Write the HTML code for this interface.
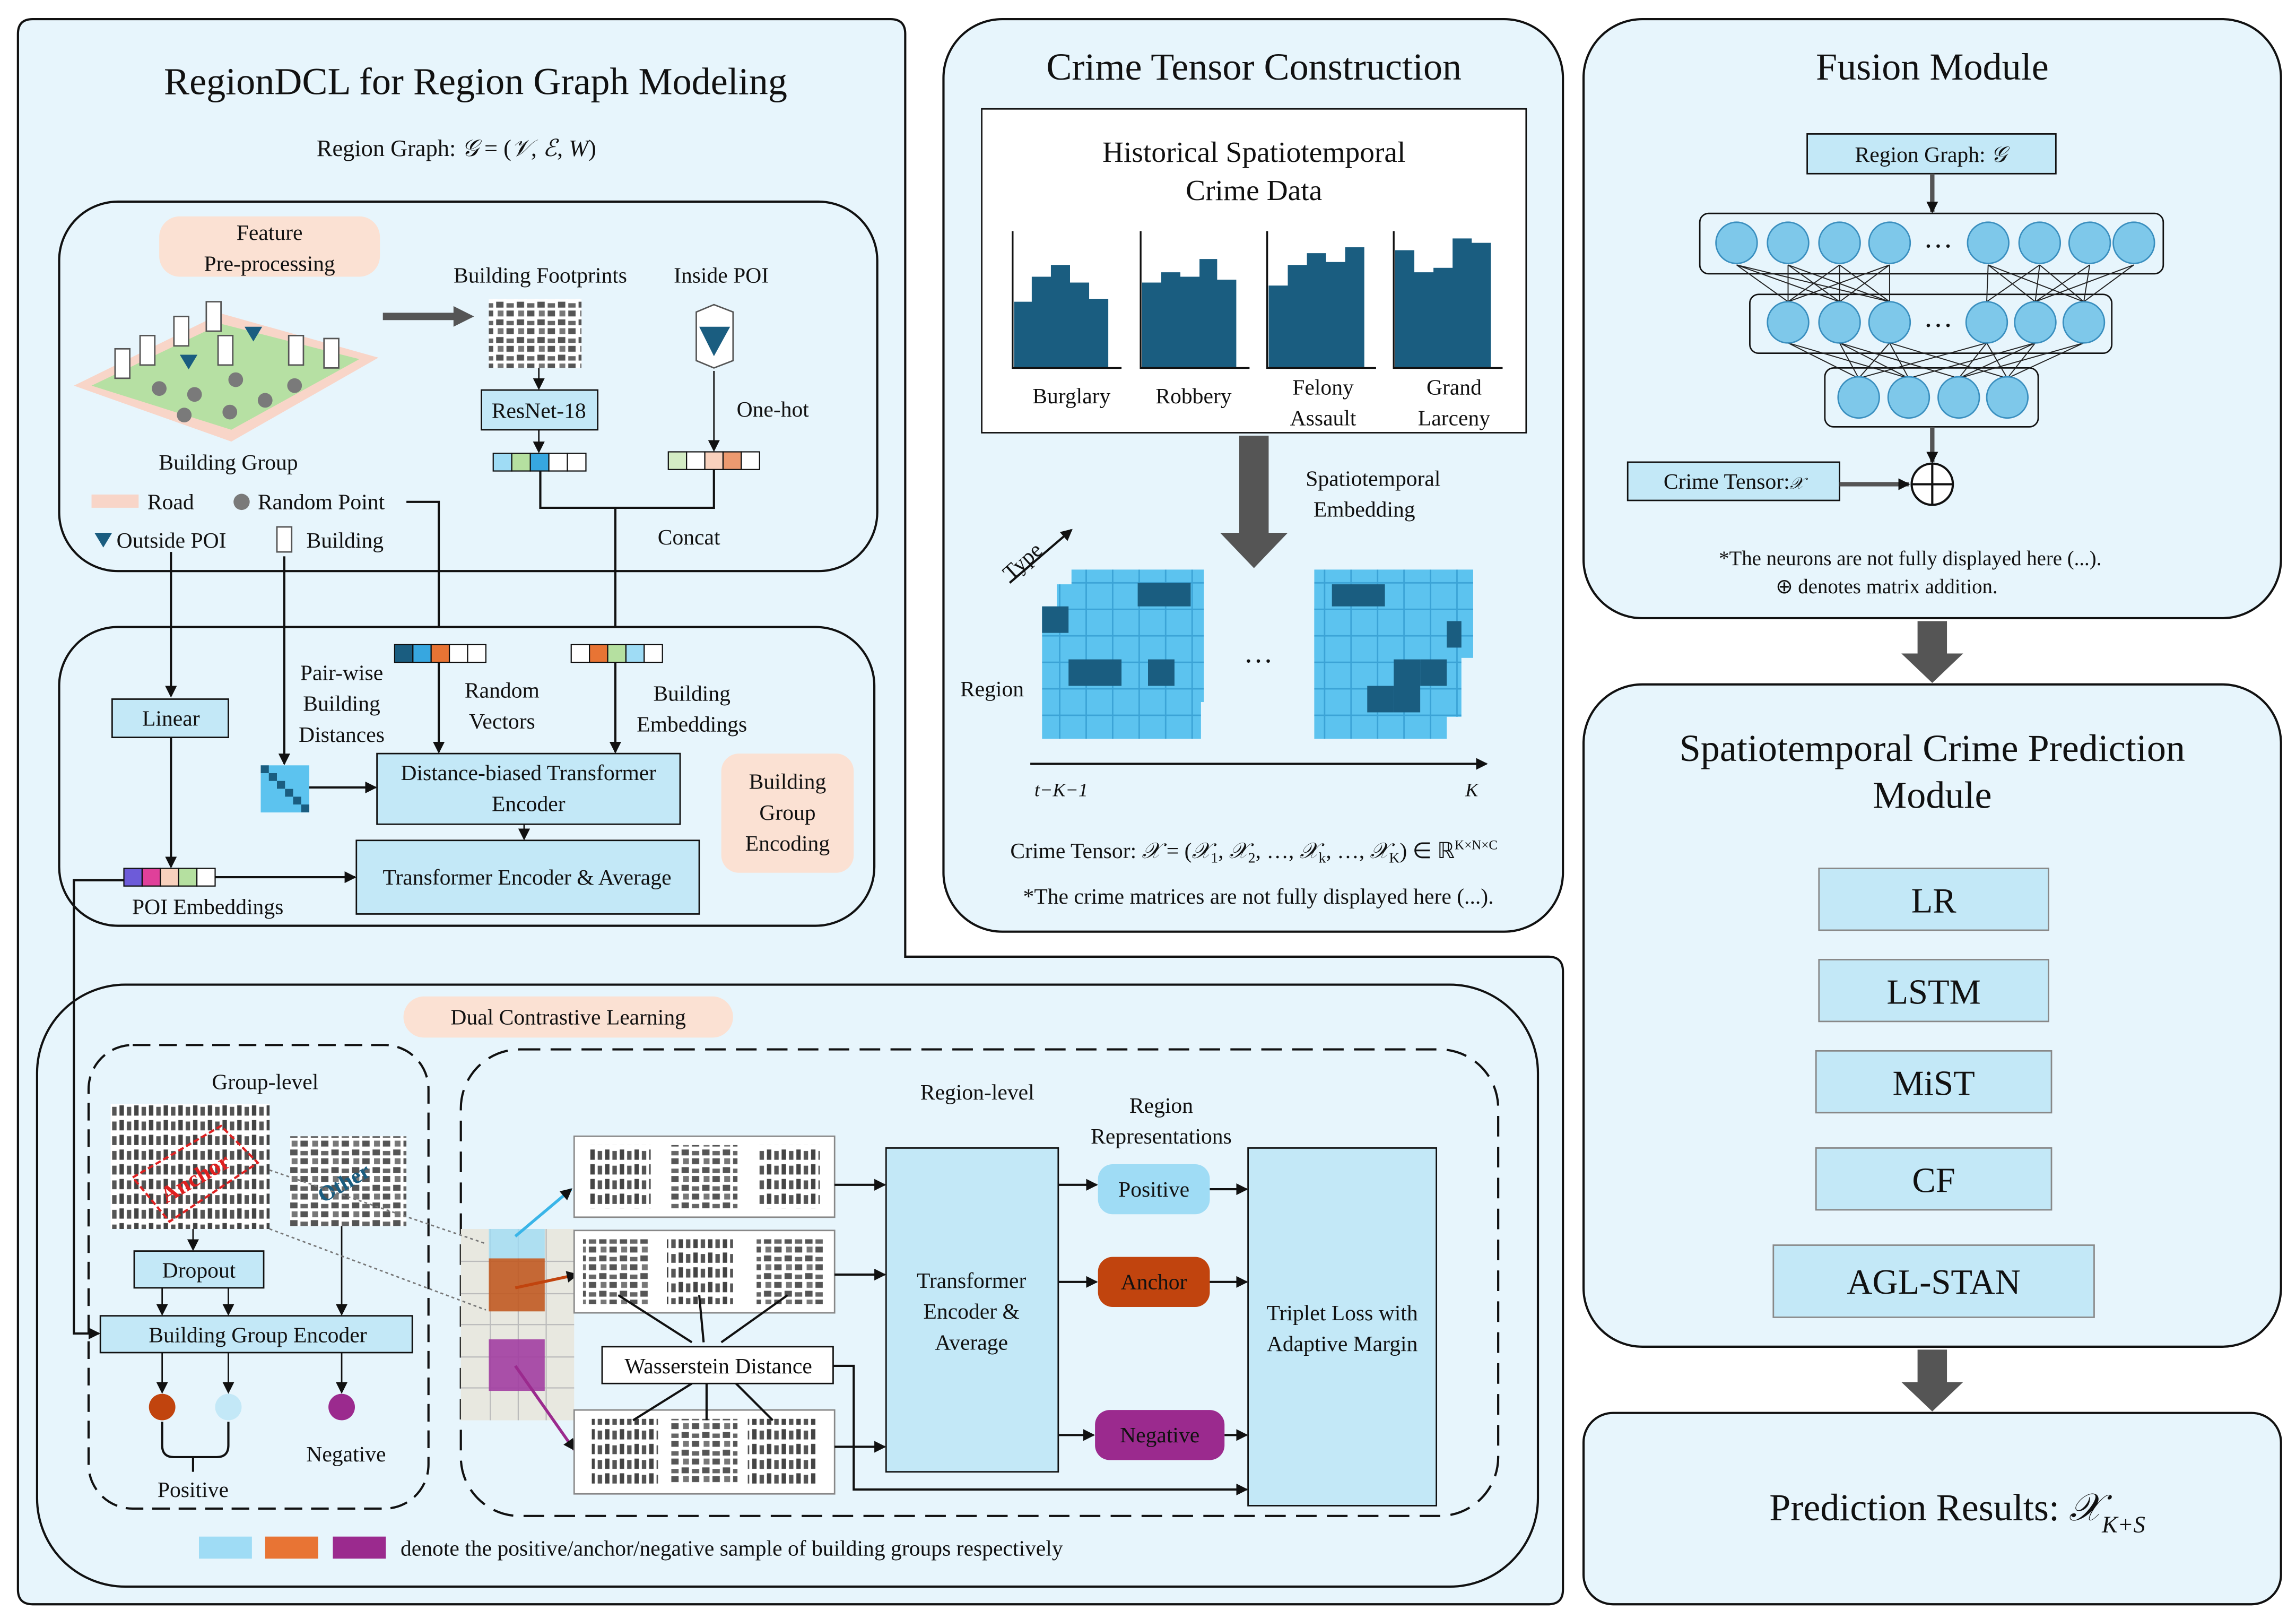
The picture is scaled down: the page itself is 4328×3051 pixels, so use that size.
<!DOCTYPE html>
<html><head><meta charset="utf-8"><style>
html,body{margin:0;padding:0;background:#fff;}
svg{display:block;}
text{font-family:"Liberation Serif",serif;fill:#111;}
</style></head><body>
<svg width="4328" height="3051" viewBox="0 0 1560 1100" xmlns="http://www.w3.org/2000/svg">
<defs>
<marker id="ar" markerWidth="8" markerHeight="8" refX="7" refY="4" orient="auto" markerUnits="userSpaceOnUse"><path d="M0,0L8,4L0,8z" fill="#111"/></marker>
<pattern id="grid" width="18" height="18" patternUnits="userSpaceOnUse"><rect width="18" height="18" fill="#5cc3ef" stroke="#3ba3d6" stroke-width="1"/></pattern>
<pattern id="bld" width="14" height="12" patternUnits="userSpaceOnUse"><rect width="14" height="12" fill="#fff"/><rect x="1" y="1" width="5" height="4" fill="#555"/><rect x="8" y="2" width="5" height="3" fill="#666"/><rect x="2" y="7" width="4" height="4" fill="#777"/><rect x="8" y="7" width="5" height="4" fill="#555"/></pattern>
<pattern id="bld2" width="10" height="10" patternUnits="userSpaceOnUse"><rect width="10" height="10" fill="#fff"/><rect x="1" y="1" width="3" height="7" fill="#444"/><rect x="6" y="2" width="3" height="6" fill="#555"/></pattern>
</defs>

<!-- left big panel -->
<path d="M22,13 H605 Q615,13 615,23 V650 H1052 Q1062,650 1062,660 V1080 Q1062,1090 1052,1090 H22 Q12,1090 12,1080 V23 Q12,13 22,13 Z" fill="#e7f5fc" stroke="#111" stroke-width="1.5"/>
<!-- crime tensor panel -->
<rect x="641" y="13" width="421" height="620" rx="40" fill="#e7f5fc" stroke="#111" stroke-width="1.5"/>
<!-- fusion -->
<rect x="1076" y="13" width="474" height="407" rx="40" fill="#e7f5fc" stroke="#111" stroke-width="1.5"/>
<rect x="1076" y="465" width="474" height="450" rx="40" fill="#e7f5fc" stroke="#111" stroke-width="1.5"/>
<rect x="1076" y="960" width="474" height="130" rx="20" fill="#e7f5fc" stroke="#111" stroke-width="1.5"/>

<!-- LEFT TOP -->
<text x="323" y="64" font-size="26" text-anchor="middle">RegionDCL for Region Graph Modeling</text>
<text x="310" y="106" font-size="16" text-anchor="middle">Region Graph: <tspan font-style="italic">𝒢</tspan> = (<tspan font-style="italic">𝒱</tspan>, <tspan font-style="italic">ℰ</tspan>, <tspan font-style="italic">W</tspan>)</text>

<rect x="40" y="137" width="556" height="251" rx="40" fill="#e7f5fc" stroke="#111" stroke-width="1.5"/>
<rect x="108" y="147" width="150" height="41" rx="14" fill="#fbe1d3"/>
<text x="183" y="163" font-size="15" text-anchor="middle">Feature</text>
<text x="183" y="184" font-size="15" text-anchor="middle">Pre-processing</text>
<polygon points="50,262 150,213 257,243 157,300" fill="#f8d5c8"/>
<polygon points="62,262 150,220 244,244 157,292" fill="#b6e0a3"/>
<g fill="#7a7a7a"><circle cx="108" cy="264" r="5"/><circle cx="132" cy="268" r="5"/><circle cx="156" cy="280" r="5"/><circle cx="180" cy="272" r="5"/><circle cx="160" cy="258" r="5"/><circle cx="125" cy="282" r="5"/><circle cx="200" cy="262" r="5"/></g>
<g fill="#fff" stroke="#555"><rect x="78" y="237" width="10" height="20"/><rect x="95" y="228" width="10" height="20"/><rect x="118" y="215" width="10" height="20"/><rect x="140" y="205" width="10" height="20"/><rect x="148" y="228" width="10" height="20"/><rect x="196" y="228" width="10" height="20"/><rect x="220" y="230" width="10" height="20"/></g>
<g fill="#1a5d80"><polygon points="122,241 134,241 128,251"/><polygon points="166,222 178,222 172,232"/></g>
<text x="155" y="319" font-size="15" text-anchor="middle">Building Group</text>
<line x1="260" y1="215" x2="310" y2="215" stroke="#555" stroke-width="5"/><polygon points="308,208 322,215 308,222" fill="#555"/>
<text x="367" y="192" font-size="15" text-anchor="middle">Building Footprints</text>
<rect x="332" y="203" width="63" height="47" fill="url(#bld)"/>
<line x1="366" y1="250" x2="366" y2="264" stroke="#111" marker-end="url(#ar)"/>
<rect x="327" y="265" width="79" height="27" fill="#c3e8f7" stroke="#111"/>
<text x="366" y="284" font-size="15" text-anchor="middle">ResNet-18</text>
<line x1="366" y1="292" x2="366" y2="307" stroke="#111" marker-end="url(#ar)"/>
<g stroke="#111" stroke-width="0.8"><rect x="335" y="308" width="12.6" height="12" fill="#9fdcf5"/><rect x="347.6" y="308" width="12.6" height="12" fill="#b5e0a0"/><rect x="360.2" y="308" width="12.6" height="12" fill="#37a7e0"/><rect x="372.8" y="308" width="12.6" height="12" fill="#fff"/><rect x="385.4" y="308" width="12.6" height="12" fill="#fff"/></g>
<text x="490" y="192" font-size="15" text-anchor="middle">Inside POI</text>
<polygon points="473,212 485,207 498,212 498,245 485,250 473,245" fill="#fff" stroke="#555"/>
<polygon points="475,222 496,222 485,242" fill="#1a5d80"/>
<text x="525" y="283" font-size="15" text-anchor="middle">One-hot</text>
<line x1="485" y1="252" x2="485" y2="306" stroke="#111" marker-end="url(#ar)"/>
<g stroke="#111" stroke-width="0.8"><rect x="454" y="307" width="12.4" height="12" fill="#d4ecc4"/><rect x="466.4" y="307" width="12.4" height="12" fill="#fff"/><rect x="478.8" y="307" width="12.4" height="12" fill="#f8d1bd"/><rect x="491.2" y="307" width="12.4" height="12" fill="#ec9a70"/><rect x="503.6" y="307" width="12.4" height="12" fill="#fff"/></g>
<path d="M367,320 V345 H485 V319" fill="none" stroke="#111" stroke-width="1.5"/>
<line x1="418" y1="345" x2="418" y2="436" stroke="#111" stroke-width="1.5" marker-end="url(#ar)"/>
<text x="468" y="370" font-size="15" text-anchor="middle">Concat</text>
<rect x="62" y="336" width="32" height="9" fill="#f8d5c8"/>
<text x="100" y="346" font-size="15">Road</text>
<circle cx="164" cy="341" r="5.5" fill="#7a7a7a"/>
<text x="175" y="346" font-size="15">Random Point</text>
<path d="M276,341 H298 V436" fill="none" stroke="#111" stroke-width="1.5" marker-end="url(#ar)"/>
<polygon points="64,362 76,362 70,372" fill="#1a5d80"/>
<text x="79" y="372" font-size="15">Outside POI</text>
<rect x="188" y="358" width="10" height="17" fill="#fff" stroke="#555"/>
<text x="208" y="372" font-size="15">Building</text>

<!-- box 2 -->
<rect x="40" y="426" width="554" height="203" rx="40" fill="#e7f5fc" stroke="#111" stroke-width="1.5"/>
<line x1="116" y1="375" x2="116" y2="473" stroke="#111" stroke-width="1.5" marker-end="url(#ar)"/>
<line x1="193" y1="378" x2="193" y2="519" stroke="#111" stroke-width="1.5" marker-end="url(#ar)"/>
<g stroke="#111" stroke-width="0.8"><rect x="268" y="438" width="12.4" height="12" fill="#1a5d80"/><rect x="280.4" y="438" width="12.4" height="12" fill="#37a7e0"/><rect x="292.8" y="438" width="12.4" height="12" fill="#e87434"/><rect x="305.2" y="438" width="12.4" height="12" fill="#fff"/><rect x="317.6" y="438" width="12.4" height="12" fill="#fff"/></g>
<g stroke="#111" stroke-width="0.8"><rect x="388" y="438" width="12.4" height="12" fill="#fff"/><rect x="400.4" y="438" width="12.4" height="12" fill="#e87434"/><rect x="412.8" y="438" width="12.4" height="12" fill="#b5e0a0"/><rect x="425.2" y="438" width="12.4" height="12" fill="#9fdcf5"/><rect x="437.6" y="438" width="12.4" height="12" fill="#fff"/></g>
<text x="232" y="462" font-size="15" text-anchor="middle">Pair-wise</text>
<text x="232" y="483" font-size="15" text-anchor="middle">Building</text>
<text x="232" y="504" font-size="15" text-anchor="middle">Distances</text>
<text x="341" y="474" font-size="15" text-anchor="middle">Random</text>
<text x="341" y="495" font-size="15" text-anchor="middle">Vectors</text>
<text x="470" y="476" font-size="15" text-anchor="middle">Building</text>
<text x="470" y="497" font-size="15" text-anchor="middle">Embeddings</text>
<rect x="76" y="475" width="79" height="26" fill="#c3e8f7" stroke="#111"/>
<text x="116" y="493" font-size="15" text-anchor="middle">Linear</text>
<line x1="116" y1="501" x2="116" y2="589" stroke="#111" stroke-width="1.5" marker-end="url(#ar)"/>
<rect x="177" y="520" width="33" height="32" fill="#5cc3ef"/>
<g fill="#1a5d80"><rect x="177" y="520" width="5.5" height="5.3"/><rect x="182.5" y="525.3" width="5.5" height="5.3"/><rect x="188" y="530.6" width="5.5" height="5.3"/><rect x="193.5" y="536" width="5.5" height="5.3"/><rect x="199" y="541.3" width="5.5" height="5.3"/><rect x="204.5" y="546.6" width="5.5" height="5.3"/></g>
<line x1="210" y1="535" x2="255" y2="535" stroke="#111" stroke-width="1.5" marker-end="url(#ar)"/>
<line x1="298" y1="450" x2="298" y2="511" stroke="#111" stroke-width="1.5" marker-end="url(#ar)"/>
<line x1="418" y1="450" x2="418" y2="511" stroke="#111" stroke-width="1.5" marker-end="url(#ar)"/>
<rect x="256" y="512" width="206" height="48" fill="#c3e8f7" stroke="#111"/>
<text x="359" y="530" font-size="15" text-anchor="middle">Distance-biased Transformer</text>
<text x="359" y="551" font-size="15" text-anchor="middle">Encoder</text>
<line x1="356" y1="560" x2="356" y2="570" stroke="#111" marker-end="url(#ar)"/>
<rect x="242" y="571" width="233" height="50" fill="#c3e8f7" stroke="#111"/>
<text x="358" y="601" font-size="15" text-anchor="middle">Transformer Encoder &amp; Average</text>
<rect x="490" y="512" width="90" height="81" rx="12" fill="#fbe1d3"/>
<text x="535" y="536" font-size="15" text-anchor="middle">Building</text>
<text x="535" y="557" font-size="15" text-anchor="middle">Group</text>
<text x="535" y="578" font-size="15" text-anchor="middle">Encoding</text>
<g stroke="#111" stroke-width="0.8"><rect x="84" y="590" width="12.4" height="12" fill="#6d5bd9"/><rect x="96.4" y="590" width="12.4" height="12" fill="#e0409a"/><rect x="108.8" y="590" width="12.4" height="12" fill="#f8d1bd"/><rect x="121.2" y="590" width="12.4" height="12" fill="#b5e0a0"/><rect x="133.6" y="590" width="12.4" height="12" fill="#fff"/></g>
<line x1="146" y1="596" x2="241" y2="596" stroke="#111" stroke-width="1.5" marker-end="url(#ar)"/>
<text x="141" y="621" font-size="15" text-anchor="middle">POI Embeddings</text>
<path d="M84,598 H50 V906 H67" fill="none" stroke="#111" stroke-width="1.5" marker-end="url(#ar)"/>

<!-- DUAL CONTRASTIVE -->
<rect x="25" y="669" width="1020" height="409" rx="60" fill="#e7f5fc" stroke="#111" stroke-width="1.5"/>
<path d="M84,598 H50 V906 H67" fill="none" stroke="#111" stroke-width="1.5" marker-end="url(#ar)"/>
<rect x="274" y="677" width="224" height="28" rx="14" fill="#fbe1d3"/>
<text x="386" y="696" font-size="15" text-anchor="middle">Dual Contrastive Learning</text>
<rect x="60" y="710" width="231" height="315" rx="30" fill="none" stroke="#111" stroke-width="1.5" stroke-dasharray="12,6"/>
<text x="180" y="740" font-size="15" text-anchor="middle">Group-level</text>
<rect x="75" y="750" width="108" height="85" fill="url(#bld2)"/>
<polygon points="90,800 150,765 175,790 115,830" fill="none" stroke="#e02020" stroke-width="1.5" stroke-dasharray="4,2"/>
<text x="135" y="805" font-size="16" font-weight="bold" fill="#e02020" transform="rotate(-30 135 805)" text-anchor="middle" style="fill:#e02020">Anchor</text>
<rect x="197" y="772" width="79" height="61" fill="url(#bld)"/>
<text x="236" y="808" font-size="15" font-weight="bold" transform="rotate(-30 236 808)" text-anchor="middle" style="fill:#1a5d80">Other</text>
<line x1="131" y1="835" x2="131" y2="849" stroke="#111" marker-end="url(#ar)"/>
<rect x="91" y="850" width="88" height="25" fill="#c3e8f7" stroke="#111"/>
<text x="135" y="868" font-size="15" text-anchor="middle">Dropout</text>
<line x1="110" y1="875" x2="110" y2="893" stroke="#111" marker-end="url(#ar)"/>
<line x1="155" y1="875" x2="155" y2="893" stroke="#111" marker-end="url(#ar)"/>
<line x1="232" y1="833" x2="232" y2="893" stroke="#111" marker-end="url(#ar)"/>
<rect x="68" y="894" width="212" height="25" fill="#c3e8f7" stroke="#111"/>
<text x="175" y="912" font-size="15" text-anchor="middle">Building Group Encoder</text>
<line x1="110" y1="919" x2="110" y2="946" stroke="#111" marker-end="url(#ar)"/>
<line x1="155" y1="919" x2="155" y2="946" stroke="#111" marker-end="url(#ar)"/>
<line x1="232" y1="919" x2="232" y2="946" stroke="#111" marker-end="url(#ar)"/>
<circle cx="110" cy="956" r="9" fill="#c1440e"/>
<circle cx="155" cy="956" r="9" fill="#c3e8f7"/>
<circle cx="232" cy="956" r="9" fill="#9b2a8e"/>
<path d="M110,966 V982 Q110,990 118,990 H147 Q155,990 155,982 V966 M131,990 V1000" fill="none" stroke="#111" stroke-width="1.5"/>
<text x="131" y="1017" font-size="15" text-anchor="middle">Positive</text>
<text x="235" y="993" font-size="15" text-anchor="middle">Negative</text>

<rect x="313" y="713" width="705" height="317" rx="40" fill="none" stroke="#111" stroke-width="1.5" stroke-dasharray="14,7"/>
<text x="664" y="747" font-size="15" text-anchor="middle">Region-level</text>
<text x="789" y="756" font-size="15" text-anchor="middle">Region</text>
<text x="789" y="777" font-size="15" text-anchor="middle">Representations</text>
<!-- map -->
<rect x="313" y="835" width="77" height="130" fill="#e8e8e0"/>
<g stroke="#bbb" stroke-width="0.8" fill="none"><path d="M313,857H390M313,879H390M313,900H390M313,922H390M313,943H390M333,835V965M352,835V965M371,835V965"/></g>
<rect x="332" y="835" width="38" height="20" fill="#9fdcf5" opacity="0.8"/>
<rect x="332" y="855" width="38" height="36" fill="#c15a22" opacity="0.9"/>
<rect x="332" y="910" width="38" height="35" fill="#a23ea2" opacity="0.9"/>
<line x1="350" y1="840" x2="388" y2="808" stroke="#3ab5e8" stroke-width="2" marker-end="url(#ar)"/>
<line x1="350" y1="875" x2="392" y2="866" stroke="#c1440e" stroke-width="2" marker-end="url(#ar)"/>
<line x1="350" y1="928" x2="390" y2="985" stroke="#9b2a8e" stroke-width="2" marker-end="url(#ar)"/>
<line x1="183" y1="795" x2="330" y2="845" stroke="#777" stroke-dasharray="2,2"/>
<line x1="183" y1="835" x2="330" y2="890" stroke="#777" stroke-dasharray="2,2"/>
<!-- image rows -->
<rect x="390" y="772" width="177" height="55" fill="#fff" stroke="#888"/>
<rect x="400" y="778" width="42" height="43" fill="url(#bld2)"/><rect x="456" y="778" width="45" height="43" fill="url(#bld)"/><rect x="515" y="778" width="42" height="43" fill="url(#bld2)"/>
<rect x="390" y="836" width="177" height="56" fill="#fff" stroke="#888"/>
<rect x="396" y="842" width="45" height="44" fill="url(#bld)"/><rect x="453" y="842" width="45" height="44" fill="url(#bld2)"/><rect x="514" y="842" width="45" height="44" fill="url(#bld)"/>
<rect x="390" y="958" width="177" height="57" fill="#fff" stroke="#888"/>
<rect x="402" y="964" width="45" height="44" fill="url(#bld2)"/><rect x="456" y="964" width="45" height="44" fill="url(#bld)"/><rect x="508" y="964" width="46" height="44" fill="url(#bld2)"/>
<path d="M420,880 L470,912 M475,880 L478,912 M535,880 L490,912 M430,965 L470,940 M480,965 L480,940 M525,965 L500,940" stroke="#111" stroke-width="1.5"/>
<rect x="409" y="915" width="157" height="25" fill="#fff" stroke="#111"/>
<text x="488" y="933" font-size="15" text-anchor="middle">Wasserstein Distance</text>
<path d="M566,928 H580 V1012 H847" fill="none" stroke="#111" stroke-width="1.5" marker-end="url(#ar)"/>
<line x1="567" y1="805" x2="601" y2="805" stroke="#111" stroke-width="1.5" marker-end="url(#ar)"/>
<line x1="567" y1="866" x2="601" y2="866" stroke="#111" stroke-width="1.5" marker-end="url(#ar)"/>
<line x1="567" y1="983" x2="601" y2="983" stroke="#111" stroke-width="1.5" marker-end="url(#ar)"/>
<rect x="602" y="780" width="117" height="220" fill="#c3e8f7" stroke="#111"/>
<text x="660" y="875" font-size="15" text-anchor="middle">Transformer</text>
<text x="660" y="896" font-size="15" text-anchor="middle">Encoder &amp;</text>
<text x="660" y="917" font-size="15" text-anchor="middle">Average</text>
<line x1="719" y1="805" x2="745" y2="805" stroke="#111" stroke-width="1.5" marker-end="url(#ar)"/>
<line x1="719" y1="871" x2="745" y2="871" stroke="#111" stroke-width="1.5" marker-end="url(#ar)"/>
<line x1="719" y1="975" x2="743" y2="975" stroke="#111" stroke-width="1.5" marker-end="url(#ar)"/>
<rect x="746" y="791" width="76" height="34" rx="10" fill="#9fdcf5"/>
<text x="784" y="813" font-size="15" text-anchor="middle">Positive</text>
<rect x="746" y="854" width="76" height="34" rx="10" fill="#c1440e"/>
<text x="784" y="876" font-size="15" text-anchor="middle">Anchor</text>
<rect x="744" y="958" width="88" height="34" rx="10" fill="#9b2a8e"/>
<text x="788" y="980" font-size="15" text-anchor="middle">Negative</text>
<line x1="822" y1="808" x2="847" y2="808" stroke="#111" stroke-width="1.5" marker-end="url(#ar)"/>
<line x1="822" y1="871" x2="847" y2="871" stroke="#111" stroke-width="1.5" marker-end="url(#ar)"/>
<line x1="832" y1="975" x2="847" y2="975" stroke="#111" stroke-width="1.5" marker-end="url(#ar)"/>
<rect x="848" y="780" width="128" height="243" fill="#c3e8f7" stroke="#111"/>
<text x="912" y="897" font-size="15" text-anchor="middle">Triplet Loss with</text>
<text x="912" y="918" font-size="15" text-anchor="middle">Adaptive Margin</text>
<rect x="135" y="1044" width="36" height="15" fill="#9fdcf5"/>
<rect x="180" y="1044" width="36" height="15" fill="#e87434"/>
<rect x="226" y="1044" width="36" height="15" fill="#9b2a8e"/>
<text x="272" y="1057" font-size="15">denote the positive/anchor/negative sample of building groups respectively</text>

<!-- CRIME TENSOR -->
<text x="852" y="54" font-size="26" text-anchor="middle">Crime Tensor Construction</text>
<rect x="667" y="74" width="370" height="220" fill="#fff" stroke="#111"/>
<text x="852" y="110" font-size="20" text-anchor="middle">Historical Spatiotemporal</text>
<text x="852" y="136" font-size="20" text-anchor="middle">Crime Data</text>
<g fill="#1a5d80">
<path d="M689,250V205H701V188H714V180H727V192H740V203H753V250Z"/>
<path d="M776,250V192H789V185H802V188H815V176H827V190H840V250Z"/>
<path d="M862,250V194H875V180H888V172H901V178H914V168H927V250Z"/>
<path d="M948,250V170H961V185H974V182H987V162H1000V165H1013V250Z"/>
</g>
<g stroke="#111" fill="none" stroke-width="1.2">
<path d="M688,157V250H762"/><path d="M775,157V250H849"/><path d="M861,157V250H935"/><path d="M947,157V250H1021"/>
</g>
<text x="728" y="274" font-size="15" text-anchor="middle">Burglary</text>
<text x="811" y="274" font-size="15" text-anchor="middle">Robbery</text>
<text x="899" y="268" font-size="15" text-anchor="middle">Felony</text>
<text x="899" y="289" font-size="15" text-anchor="middle">Assault</text>
<text x="988" y="268" font-size="15" text-anchor="middle">Grand</text>
<text x="988" y="289" font-size="15" text-anchor="middle">Larceny</text>
<polygon points="842,296 862,296 862,362 875,362 852,386 829,362 842,362" fill="#555"/>
<text x="933" y="330" font-size="15" text-anchor="middle">Spatiotemporal</text>
<text x="927" y="351" font-size="15" text-anchor="middle">Embedding</text>
<line x1="686" y1="396" x2="728" y2="360" stroke="#111" stroke-width="1.5" marker-end="url(#ar)"/>
<text x="698" y="385" font-size="15" transform="rotate(-42 698 385)" text-anchor="middle">Type</text>
<text x="674" y="473" font-size="15" text-anchor="middle">Region</text>
<g>
<rect x="728" y="387" width="90" height="90" fill="url(#grid)"/>
<rect x="718" y="397" width="90" height="90" fill="url(#grid)"/>
<rect x="708" y="412" width="108" height="90" fill="url(#grid)"/>
<rect x="773" y="396" width="36" height="16" fill="#1a5d80"/>
<rect x="708" y="412" width="18" height="18" fill="#1a5d80"/>
<rect x="726" y="448" width="36" height="18" fill="#1a5d80"/>
<rect x="780" y="448" width="18" height="18" fill="#1a5d80"/>
<rect x="893" y="387" width="108" height="60" fill="url(#grid)"/>
<rect x="893" y="397" width="100" height="90" fill="url(#grid)"/>
<rect x="893" y="412" width="90" height="90" fill="url(#grid)"/>
<rect x="905" y="397" width="36" height="15" fill="#1a5d80"/>
<rect x="929" y="466" width="18" height="18" fill="#1a5d80"/>
<rect x="947" y="448" width="18" height="36" fill="#1a5d80"/>
<rect x="965" y="448" width="18" height="18" fill="#1a5d80"/>
<rect x="983" y="422" width="10" height="18" fill="#1a5d80"/>
</g>
<text x="855" y="450" font-size="20" text-anchor="middle">…</text>
<line x1="700" y1="519" x2="1010" y2="519" stroke="#111" stroke-width="1.5" marker-end="url(#ar)"/>
<text x="721" y="541" font-size="13" font-style="italic" text-anchor="middle">t−K−1</text>
<text x="1000" y="541" font-size="13" font-style="italic" text-anchor="middle">K</text>
<text x="852" y="583" font-size="15" text-anchor="middle">Crime Tensor: <tspan font-style="italic">𝒳</tspan> = (<tspan font-style="italic">𝒳</tspan><tspan font-size="10" dy="3">1</tspan><tspan dy="-3">, </tspan><tspan font-style="italic">𝒳</tspan><tspan font-size="10" dy="3">2</tspan><tspan dy="-3">, …, </tspan><tspan font-style="italic">𝒳</tspan><tspan font-size="10" dy="3">k</tspan><tspan dy="-3">, …, </tspan><tspan font-style="italic">𝒳</tspan><tspan font-size="10" dy="3">K</tspan><tspan dy="-3">) ∈ ℝ</tspan><tspan font-size="9" dy="-6">K×N×C</tspan></text>
<text x="855" y="614" font-size="15" text-anchor="middle">*The crime matrices are not fully displayed here (...).</text>

<!-- FUSION -->
<text x="1313" y="54" font-size="26" text-anchor="middle">Fusion Module</text>
<rect x="1228" y="91" width="169" height="27" fill="#c3e8f7" stroke="#111"/>
<text x="1312" y="110" font-size="15" text-anchor="middle">Region Graph: <tspan font-style="italic">𝒢</tspan></text>
<line x1="1313" y1="118" x2="1313" y2="144" stroke="#555" stroke-width="3" marker-end="url(#ar)"/>
<rect x="1155" y="145" width="315" height="41" rx="6" fill="#e7f5fc" stroke="#111"/>
<rect x="1189" y="200" width="246" height="40" rx="6" fill="#e7f5fc" stroke="#111"/>
<rect x="1240" y="250" width="145" height="40" rx="6" fill="#e7f5fc" stroke="#111"/>
<g stroke="#222" stroke-width="0.7">
<path d="M1180,180L1215,205M1180,180L1250,205M1215,180L1215,205M1215,180L1250,205M1215,180L1284,205M1250,180L1215,205M1250,180L1284,205M1284,180L1250,205M1284,180L1215,205M1180,180L1284,205M1250,180L1250,205M1284,180L1284,205"/>
<path d="M1351,180L1350,205M1351,180L1383,205M1386,180L1350,205M1386,180L1416,205M1420,180L1383,205M1420,180L1416,205M1450,180L1416,205M1450,180L1383,205M1386,180L1383,205M1351,180L1416,205"/>
<path d="M1215,233L1263,257M1215,233L1297,257M1250,233L1263,257M1250,233L1331,257M1284,233L1297,257M1284,233L1364,257M1350,233L1263,257M1350,233L1331,257M1383,233L1297,257M1383,233L1364,257M1416,233L1331,257M1416,233L1364,257M1250,233L1297,257M1284,233L1263,257M1350,233L1364,257M1383,233L1331,257"/>
</g>
<g fill="#7ec8ea" stroke="#3a8fbf">
<circle cx="1180" cy="165" r="14"/><circle cx="1215" cy="165" r="14"/><circle cx="1250" cy="165" r="14"/><circle cx="1284" cy="165" r="14"/><circle cx="1351" cy="165" r="14"/><circle cx="1386" cy="165" r="14"/><circle cx="1420" cy="165" r="14"/><circle cx="1450" cy="165" r="14"/>
<circle cx="1215" cy="219" r="14"/><circle cx="1250" cy="219" r="14"/><circle cx="1284" cy="219" r="14"/><circle cx="1350" cy="219" r="14"/><circle cx="1383" cy="219" r="14"/><circle cx="1416" cy="219" r="14"/>
<circle cx="1263" cy="270" r="14"/><circle cx="1297" cy="270" r="14"/><circle cx="1331" cy="270" r="14"/><circle cx="1364" cy="270" r="14"/>
</g>
<text x="1317" y="168" font-size="20" text-anchor="middle">…</text>
<text x="1317" y="222" font-size="20" text-anchor="middle">…</text>
<line x1="1313" y1="290" x2="1313" y2="314" stroke="#555" stroke-width="3" marker-end="url(#ar)"/>
<circle cx="1313" cy="329" r="14" fill="#fff" stroke="#111" stroke-width="1.5"/>
<path d="M1299,329H1327M1313,315V343" stroke="#111" stroke-width="1.5"/>
<rect x="1106" y="314" width="144" height="26" fill="#c3e8f7" stroke="#111"/>
<text x="1178" y="332" font-size="15" text-anchor="middle">Crime Tensor:<tspan font-style="italic" font-size="11">𝒳</tspan></text>
<line x1="1250" y1="329" x2="1297" y2="329" stroke="#555" stroke-width="3" marker-end="url(#ar)"/>
<text x="1298" y="384" font-size="14" text-anchor="middle">*The neurons are not fully displayed here (...).</text>
<text x="1282" y="403" font-size="14" text-anchor="middle">⊕ denotes matrix addition.</text>
<polygon points="1303,422 1323,422 1323,444 1334,444 1313,464 1292,444 1303,444" fill="#555"/>
<polygon points="1303,917 1323,917 1323,939 1334,939 1313,959 1292,939 1303,939" fill="#555"/>

<text x="1313" y="517" font-size="26" text-anchor="middle">Spatiotemporal Crime Prediction</text>
<text x="1313" y="549" font-size="26" text-anchor="middle">Module</text>
<g fill="#c3e8f7" stroke="#888">
<rect x="1236" y="590" width="156" height="42"/><rect x="1236" y="652" width="156" height="42"/><rect x="1234" y="714" width="160" height="42"/><rect x="1234" y="780" width="160" height="42"/><rect x="1205" y="846" width="218" height="49"/>
</g>
<g font-size="24" text-anchor="middle">
<text x="1314" y="620">LR</text><text x="1314" y="682">LSTM</text><text x="1314" y="744">MiST</text><text x="1314" y="810">CF</text><text x="1314" y="879">AGL-STAN</text>
</g>
<text x="1330" y="1033" font-size="26" text-anchor="middle">Prediction Results: <tspan font-style="italic">𝒳</tspan><tspan font-size="16" font-style="italic" dy="8">K+S</tspan></text>
</svg>
</body></html>
